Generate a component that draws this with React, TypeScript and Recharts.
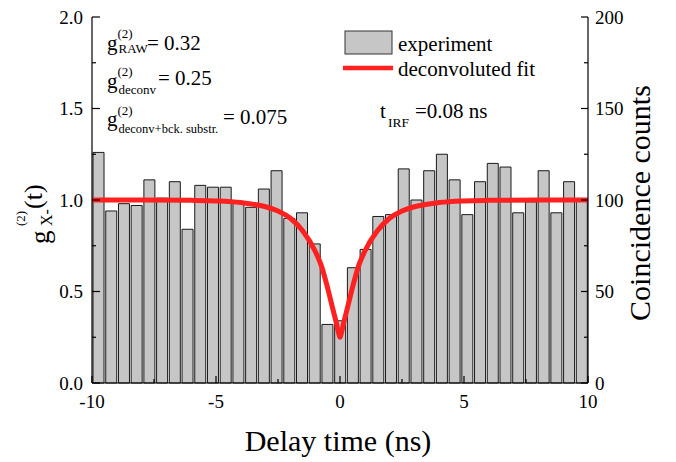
import React from "react";
import { ComposedChart, Bar, Line, XAxis, YAxis } from "recharts";

// histogram bins (ns, bin centres) and coincidence counts per bin
const binCenters = [
  -9.74, -9.23, -8.72, -8.21, -7.69, -7.18, -6.67, -6.15, -5.64, -5.13,
  -4.62, -4.1, -3.59, -3.08, -2.56, -2.05, -1.54, -1.03, -0.51, 0,
  0.51, 1.03, 1.54, 2.05, 2.56, 3.08, 3.59, 4.1, 4.62, 5.13,
  5.64, 6.15, 6.67, 7.18, 7.69, 8.21, 8.72, 9.23, 9.74,
];
const counts = [
  126, 94, 98, 97, 111, 101, 110, 84, 108, 107,
  107, 99, 96, 106, 116, 90, 93, 76, 32, 34,
  63, 73, 91, 92, 117, 100, 116, 125, 111, 92,
  110, 120, 118, 93, 99, 116, 93, 110, 100,
];

// deconvoluted fit
const fitTime = [
  -10, -8, -6, -5, -4, -3, -2.5, -2, -1.5, -1, -0.75, -0.5, -0.3, -0.15, -0.05,
  0, 0.05, 0.15, 0.3, 0.5, 0.75, 1, 1.5, 2, 2.5, 3, 4, 5, 6, 8, 10,
];
const fitG2 = [
  1.0, 1.0, 0.998, 0.995, 0.986, 0.963, 0.94, 0.9, 0.83, 0.72, 0.64, 0.52, 0.41, 0.33, 0.27,
  0.25, 0.27, 0.33, 0.41, 0.52, 0.64, 0.72, 0.83, 0.9, 0.94, 0.963, 0.986, 0.995, 0.998, 1.0, 1.0,
];

const timeTicks = [-10, -7.5, -5, -2.5, 0, 2.5, 5, 7.5, 10];
const g2Ticks = [0, 0.25, 0.5, 0.75, 1, 1.25, 1.5, 1.75, 2];
const countTicks = [0, 25, 50, 75, 100, 125, 150, 175, 200];

const barData = binCenters.map((bin, i) => ({ bin, counts: counts[i] }));
const fitData = fitTime.map((t, i) => ({ t, g2: fitG2[i] }));

const serif = '"Liberation Serif", "Times New Roman", serif';
const RED = "#ff2020";

function LeftTick(props: any) {
  const { x, y, payload } = props;
  const v = payload.value as number;
  const major = Math.abs(v * 2 - Math.round(v * 2)) < 1e-6;
  return (
    <g>
      <line x1={x} x2={x + (major ? 8 : 4)} y1={y} y2={y} stroke="#000" strokeWidth={1.2} />
      {major && (
        <text x={x - 9} y={y} dy="0.35em" textAnchor="end" fontFamily={serif} fontSize={19} fill="#000">
          {v.toFixed(1)}
        </text>
      )}
    </g>
  );
}

function RightTick(props: any) {
  const { x, y, payload } = props;
  const v = payload.value as number;
  const major = v % 50 === 0;
  return (
    <g>
      <line x1={x} x2={x - (major ? 7 : 4)} y1={y} y2={y} stroke="#000" strokeWidth={1.2} />
      {major && (
        <text x={x + 7} y={y} dy="0.35em" textAnchor="start" fontFamily={serif} fontSize={19} fill="#000">
          {v}
        </text>
      )}
    </g>
  );
}

function BottomTick(props: any) {
  const { x, y, payload } = props;
  const v = payload.value as number;
  const major = v % 5 === 0;
  return (
    <g>
      <line x1={x} x2={x} y1={y} y2={y - (major ? 7 : 4)} stroke="#000" strokeWidth={1.2} />
      {major && (
        <text x={x} y={y + 18} dy="0.35em" textAnchor="middle" fontFamily={serif} fontSize={19} fill="#000">
          {v}
        </text>
      )}
    </g>
  );
}

function Overlay() {
  const t = { fontFamily: serif, fill: "#000" };
  return (
    <svg width={676} height={462} style={{ position: "absolute", left: 0, top: 0, pointerEvents: "none" }}>
      {/* g2 values */}
      <text {...t} x={107} y={50} fontSize={21}>g</text>
      <text {...t} x={117.5} y={37.5} fontSize={13}>(2)</text>
      <text {...t} x={118.5} y={53} fontSize={13}>RAW</text>
      <text {...t} x={147} y={49.5} fontSize={21}>= 0.32</text>

      <text {...t} x={107} y={88} fontSize={21}>g</text>
      <text {...t} x={117.5} y={75.5} fontSize={13}>(2)</text>
      <text {...t} x={118.5} y={94} fontSize={13}>deconv</text>
      <text {...t} x={158} y={85} fontSize={21}>= 0.25</text>

      <text {...t} x={107} y={126} fontSize={21}>g</text>
      <text {...t} x={117.5} y={114.5} fontSize={13}>(2)</text>
      <text {...t} x={118.5} y={133} fontSize={12.5}>deconv+bck. substr.</text>
      <text {...t} x={223} y={123.5} fontSize={21}>= 0.075</text>

      {/* legend */}
      <rect x={345} y={31} width={47} height={23} fill="#c6c6c6" stroke="#333" strokeWidth={1} />
      <text {...t} x={398} y={51} fontSize={21}>experiment</text>
      <line x1={343} x2={393} y1={68} y2={68} stroke={RED} strokeWidth={4.5} />
      <text {...t} x={398} y={75.5} fontSize={21}>deconvoluted fit</text>

      <text {...t} x={380} y={118} fontSize={21}>t</text>
      <text {...t} x={388} y={127} fontSize={13.5}>IRF</text>
      <text {...t} x={415} y={118} fontSize={21}>=0.08 ns</text>

      {/* axis titles */}
      <text {...t} x={338} y={451} fontSize={30} textAnchor="middle">Delay time (ns)</text>
      <text {...t} transform="translate(650,203) rotate(-90)" fontSize={30} textAnchor="middle">
        Coincidence counts
      </text>
      <text {...t} transform="translate(49,244) rotate(-90)" fontSize={27}>g</text>
      <text {...t} transform="translate(25,226) rotate(-90)" fontSize={13}>(2)</text>
      <text {...t} transform="translate(52,226) rotate(-90)" fontSize={16}>X-</text>
      <text {...t} transform="translate(42,209) rotate(-90)" fontSize={26}>(t)</text>
    </svg>
  );
}

export default function App() {
  return (
    <div style={{ position: "absolute", left: 0, top: 0, width: 676, height: 462, background: "#fff" }}>
      <ComposedChart
        width={676}
        height={462}
        data={barData}
        margin={{ top: 17, right: 0, bottom: 0, left: 0 }}
        barCategoryGap="8%"
      >
        <XAxis xAxisId="bins" dataKey="bin" type="category" hide height={0} />
        <XAxis
          xAxisId="t"
          dataKey="t"
          type="number"
          domain={[-10, 10]}
          ticks={timeTicks}
          interval={0}
          allowDataOverflow
          height={79}
          tickSize={0}
          tickMargin={0}
          tickLine={false}
          tick={<BottomTick />}
          axisLine={{ stroke: "#000", strokeWidth: 1.2 }}
        />
        <XAxis
          xAxisId="top"
          orientation="top"
          type="number"
          domain={[-10, 10]}
          allowDataOverflow
          height={0}
          tick={false}
          tickLine={false}
          axisLine={{ stroke: "#000", strokeWidth: 1.2 }}
        />
        <YAxis
          yAxisId="g"
          type="number"
          domain={[0, 2]}
          ticks={g2Ticks}
          interval={0}
          width={92}
          tickSize={0}
          tickMargin={0}
          tickLine={false}
          tick={<LeftTick />}
          axisLine={{ stroke: "#000", strokeWidth: 1.2 }}
        />
        <YAxis
          yAxisId="c"
          orientation="right"
          type="number"
          domain={[0, 200]}
          ticks={countTicks}
          interval={0}
          width={88}
          tickSize={0}
          tickMargin={0}
          tickLine={false}
          tick={<RightTick />}
          axisLine={{ stroke: "#000", strokeWidth: 1.2 }}
        />
        <Bar
          xAxisId="bins"
          yAxisId="c"
          dataKey="counts"
          fill="#c6c6c6"
          stroke="#1a1a1a"
          strokeWidth={1}
          isAnimationActive={false}
        />
        <Line
          xAxisId="t"
          yAxisId="g"
          data={fitData}
          dataKey="g2"
          type="monotone"
          stroke={RED}
          strokeWidth={5}
          dot={false}
          activeDot={false}
          isAnimationActive={false}
        />
      </ComposedChart>
      <Overlay />
    </div>
  );
}
